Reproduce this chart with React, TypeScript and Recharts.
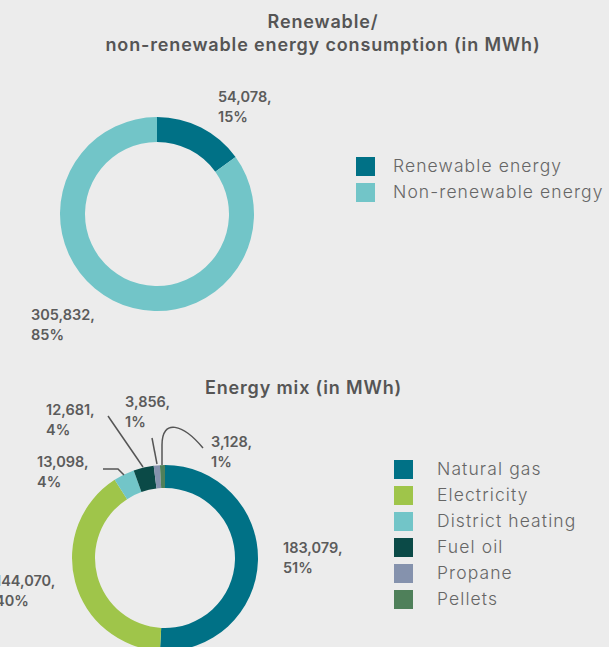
import React from "react";
import { PieChart, Pie, Cell } from "recharts";

const renewNames = ["Renewable energy", "Non-renewable energy"];
const renewValues = [54078, 305832];
const renewColors = ["#007186", "#72c5c8"];

const mixNames = ["Natural gas", "Electricity", "District heating", "Fuel oil", "Propane", "Pellets"];
const mixValues = [183079, 144070, 13098, 12681, 3856, 3128];
const mixColors = ["#007186", "#9fc54a", "#72c5c8", "#0b4a47", "#8592ad", "#4f805a"];

const renewData = renewNames.map((name, i) => ({ name, value: renewValues[i] }));
const mixData = mixNames.map((name, i) => ({ name, value: mixValues[i] }));

const FONT = "Inter, 'Noto Sans', sans-serif";
const TEXT = "#5b5b5b";

// label layout offsets (relative to pie center), not data
const renewLabelPos = [
  { dx: 61, dy: -112 },
  { dx: -126, dy: 106 },
];
const mixLabelPos = [
  { dx: 118, dy: -5, line: null },
  { dx: -170, dy: 28, line: null },
  { dx: -128, dy: -91, line: "M -62 -89 L -47 -89 L -41 -83" },
  { dx: -119, dy: -143, line: "M -57 -142 L -22 -91" },
  { dx: -40, dy: -151, line: "M -13 -120 L -8 -94" },
  { dx: 46, dy: -111, line: "M -3 -93 L -3 -113 C -3 -140 18 -134 38 -110" },
];

const fmt = (v: number) => v.toLocaleString("en-US");

const makeLabel = (layout: any[]) => (props: any) => {
  const { cx, cy, index, value, percent } = props;
  const p = layout[index];
  const pct = Math.round(percent * 100);
  return (
    <g key={`lbl-${index}`}>
      {p.line ? (
        <path d={p.line} transform={`translate(${cx},${cy})`} fill="none" stroke="#555" strokeWidth={1.5} />
      ) : null}
      <text x={cx + p.dx} y={cy + p.dy} fill={TEXT} fontFamily={FONT} fontWeight={600} fontSize={14.5}>
        {fmt(value)},
      </text>
      <text x={cx + p.dx} y={cy + p.dy + 19.5} fill={TEXT} fontFamily={FONT} fontWeight={600} fontSize={14.5}>
        {pct}%
      </text>
    </g>
  );
};

const Legend = ({ names, colors, left, top, textLeft, step }: any) => (
  <div>
    {names.map((n: string, i: number) => (
      <div key={n}>
        <div
          style={{
            position: "absolute",
            left,
            top: top + i * step,
            width: 19,
            height: 19,
            background: colors[i],
          }}
        />
        <div
          style={{
            position: "absolute",
            left: textLeft,
            top: top + i * step - 2,
            lineHeight: "22px",
            fontSize: 17.5,
            letterSpacing: 1.1,
            fontFamily: FONT,
            fontWeight: 300,
            color: "#666",
            whiteSpace: "nowrap",
          }}
        >
          {n}
        </div>
      </div>
    ))}
  </div>
);

const titleStyle: React.CSSProperties = {
  position: "absolute",
  left: 0,
  textAlign: "center",
  fontFamily: FONT,
  fontWeight: 600,
  fontSize: 18,
  letterSpacing: 0.85,
  lineHeight: "23px",
  color: "#555",
  whiteSpace: "nowrap",
};

export default function App() {
  return (
    <div
      style={{
        position: "absolute",
        left: 0,
        top: 0,
        width: 609,
        height: 647,
        background: "#ececec",
        overflow: "hidden",
      }}
    >
      <div style={{ ...titleStyle, top: 10, width: 646 }}>
        Renewable/
        <br />
        non-renewable energy consumption (in MWh)
      </div>
      <div style={{ ...titleStyle, top: 376, width: 607 }}>Energy mix (in MWh)</div>
      <div style={{ position: "absolute", left: 0, top: 0 }}>
        <PieChart width={609} height={647} margin={{ top: 0, right: 0, bottom: 0, left: 0 }}>
          <Pie
            data={renewData}
            dataKey="value"
            cx={157}
            cy={214}
            innerRadius={72}
            outerRadius={97}
            startAngle={90}
            endAngle={-270}
            stroke="none"
            isAnimationActive={false}
            labelLine={false}
            label={makeLabel(renewLabelPos)}
          >
            {renewData.map((d, i) => (
              <Cell key={d.name} fill={renewColors[i]} />
            ))}
          </Pie>
          <Pie
            data={mixData}
            dataKey="value"
            cx={165}
            cy={558}
            innerRadius={70}
            outerRadius={93}
            startAngle={90}
            endAngle={-270}
            stroke="none"
            isAnimationActive={false}
            labelLine={false}
            label={makeLabel(mixLabelPos)}
          >
            {mixData.map((d, i) => (
              <Cell key={d.name} fill={mixColors[i]} />
            ))}
          </Pie>
        </PieChart>
      </div>
      <Legend names={renewNames} colors={renewColors} left={356} top={157} textLeft={393} step={26} />
      <Legend names={mixNames} colors={mixColors} left={394} top={460} textLeft={437} step={26} />
    </div>
  );
}
